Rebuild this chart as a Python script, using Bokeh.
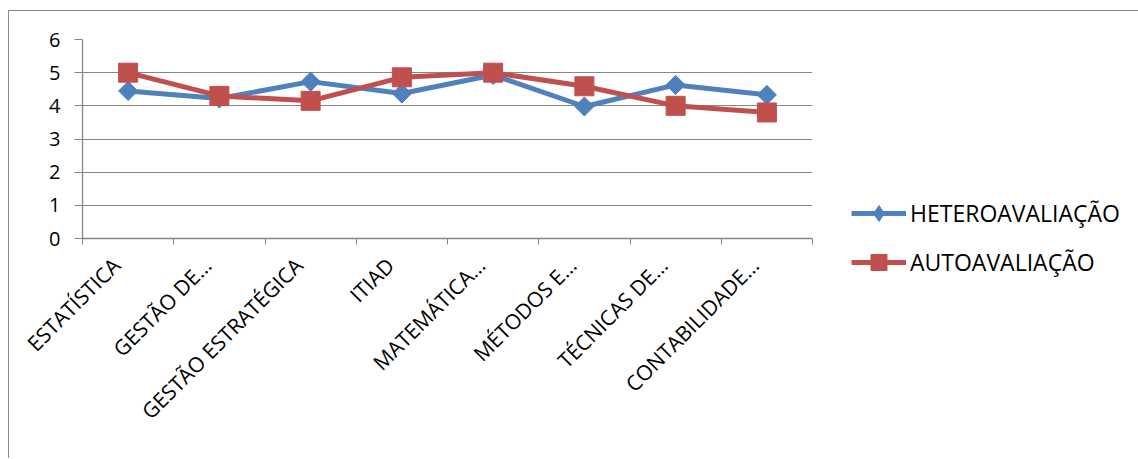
import math
from bokeh.plotting import figure
from bokeh.models import (Range1d, FixedTicker, Legend, LegendItem, ColumnDataSource,
                          CDSView, IndexFilter)
from bokeh.embed import file_html
from bokeh.resources import INLINE

categories = ["ESTATÍSTICA", "GESTÃO DE…", "GESTÃO ESTRATÉGICA", "ITIAD",
              "MATEMÁTICA…", "MÉTODOS E…", "TÉCNICAS DE…", "CONTABILIDADE…"]
hetero = [4.45, 4.22, 4.73, 4.37, 4.93, 3.98, 4.63, 4.33]
auto = [5.0, 4.3, 4.15, 4.86, 5.0, 4.59, 4.0, 3.8]
y_ticks = [0, 1, 2, 3, 4, 5, 6]

BLUE = "#4F81BD"
RED = "#C0504D"
GRAY = "#868686"
FONT = "Open Sans"

n = len(categories)
xs = [i + 0.5 for i in range(n)]
label_pos = [x - 0.13 for x in xs]

p = figure(frame_width=730, frame_height=199, output_backend="svg", toolbar_location=None,
           x_range=Range1d(0, n), y_range=Range1d(0, 6),
           min_border_left=73, min_border_top=28, min_border_right=0,
           min_border_bottom=220)
p.styles = {"border-top": "1px solid #8a8a8a", "border-left": "1px solid #8a8a8a",
            "margin-top": "10px", "margin-left": "8px"}
p.outline_line_color = None
p.background_fill_color = "white"
p.border_fill_color = "white"

# grids
p.xgrid.grid_line_color = None
p.ygrid.grid_line_color = GRAY
p.ygrid.grid_line_width = 1
p.ygrid.ticker = FixedTicker(ticks=y_ticks)

# y axis
p.yaxis.ticker = FixedTicker(ticks=y_ticks)
p.yaxis.axis_line_color = GRAY
p.yaxis.axis_line_width = 1.3
p.yaxis.major_tick_line_color = GRAY
p.yaxis.major_tick_in = 0
p.yaxis.major_tick_out = 8
p.yaxis.minor_tick_line_color = None
p.yaxis.major_label_standoff = 14
p.yaxis.major_label_text_font = FONT
p.yaxis.major_label_text_font_size = "20px"
p.yaxis.major_label_text_color = "black"

# x axis: labels at category centres, tick marks at category boundaries
p.xaxis.ticker = FixedTicker(ticks=label_pos, minor_ticks=list(range(n + 1)))
p.xaxis.major_label_overrides = {x: c for x, c in zip(label_pos, categories)}
p.xaxis.major_label_orientation = math.pi / 4
p.xaxis.axis_line_color = GRAY
p.xaxis.axis_line_width = 1.3
p.xaxis.major_tick_line_color = None
p.xaxis.minor_tick_line_color = GRAY
p.xaxis.minor_tick_in = 0
p.xaxis.minor_tick_out = 6
p.xaxis.major_tick_out = 2
p.xaxis.major_label_standoff = 17
p.xaxis.major_label_text_font = FONT
p.xaxis.major_label_text_font_size = "21px"
p.xaxis.major_label_text_color = "black"

src = ColumnDataSource(dict(x=xs, hetero=hetero, auto=auto))

l1 = p.line("x", "hetero", source=src, line_color=BLUE, line_width=5)
# diamond symbol used for the legend; it sits fully inside the first plotted marker
d1 = p.scatter("x", "hetero", source=src, marker="diamond", size=14, fill_color=BLUE,
               line_color=BLUE, view=CDSView(filter=IndexFilter(indices=[0])))
m1 = p.scatter("x", "hetero", source=src, marker="square", angle=math.pi / 4, size=13.5,
               fill_color=BLUE, line_color=BLUE)
l2 = p.line("x", "auto", source=src, line_color=RED, line_width=5)
m2 = p.scatter("x", "auto", source=src, marker="square", size=19,
               fill_color=RED, line_color=RED)

legend = Legend(items=[LegendItem(label="HETEROAVALIAÇÃO", renderers=[l1, d1]),
                       LegendItem(label="AUTOAVALIAÇÃO", renderers=[l2, m2])],
                location=(39, -44), orientation="vertical")
legend.border_line_color = None
legend.background_fill_alpha = 0
legend.padding = 0
legend.margin = 0
legend.glyph_width = 55
legend.glyph_height = 40
legend.label_height = 22
legend.spacing = 9
legend.label_standoff = 4
legend.label_text_font = FONT
legend.label_text_font_size = "23px"
legend.label_text_color = "black"
p.add_layout(legend, "right")

open("out.html", "w").write(file_html(p, INLINE))
